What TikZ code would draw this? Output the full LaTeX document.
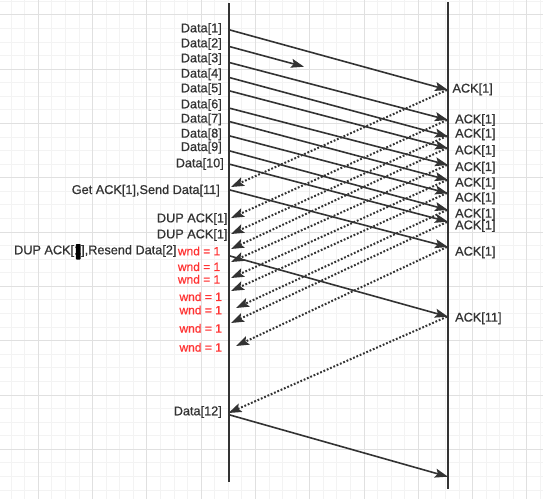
\documentclass[tikz,border=0pt]{standalone}
\usepackage{fontspec}
\setmainfont{Liberation Sans}
\newfontfamily\lblfont{Liberation Sans}[FakeBold=0.7]
\usetikzlibrary{arrows.meta}
\definecolor{ink}{HTML}{333333}
\definecolor{wndred}{HTML}{FF3333}
\definecolor{gridminor}{HTML}{F3F3F3}
\definecolor{gridmajor}{HTML}{E0E0E0}
\begin{document}
\begin{tikzpicture}[x=1pt,y=-1pt,
  tip/.style={-{Stealth[length=13pt,width=9pt,inset=2.5pt]}},
  dataarrow/.style={tip, draw=ink, fill=ink, line width=1.6pt},
  ackarrow/.style={tip, draw=ink, line width=2pt, dash pattern=on 1.8pt off 1.8pt},
  axisline/.style={draw=ink, line width=2.2pt},
  lbl/.style={inner sep=0pt, text=ink, font=\lblfont\fontsize{12.7}{14}\selectfont},
  wndlbl/.style={inner sep=0pt, text=wndred, font=\lblfont\fontsize{12}{14}\selectfont, anchor=west}
]
\useasboundingbox (0,0) rectangle (543,499);
\fill[white] (0,0) rectangle (543,499);
% grid
\begin{scope}
\clip (0,0) rectangle (543,499);
\foreach \i in {0,...,39} \draw[gridminor, line width=1pt] ({11.14+13.575*\i},0) -- ++(0,499);
\foreach \j in {0,...,36} \draw[gridminor, line width=1pt] (0,{1.33+13.575*\j}) -- ++(543,0);
\foreach \i in {0,...,9} \draw[gridmajor, line width=1pt] ({38.29+54.3*\i},0) -- ++(0,499);
\foreach \j in {0,...,8} \draw[gridmajor, line width=1pt] (0,{14.9+54.3*\j}) -- ++(543,0);
\end{scope}
% axes
\coordinate (ltop) at (229,3);
\coordinate (lbot) at (229,482);
\coordinate (rtop) at (448,2);
\coordinate (rbot) at (448,489);
% dotted ACK arrows (right to left)
\foreach \n/\a/\tx/\b in {1/90/231/187, 2/120/231/218, 3/136/231/234, 4/148/231/249,
  5/165/231/262, 6/180/231/278, 7/193/231/291, 8/210/236/308, 9/222/231/323,
  10/247/236/346, 11/316.7/228.5/413}
{
  \coordinate (a\n s) at (447,\a);
  \coordinate (a\n e) at (\tx,\b);
  \draw[ackarrow] (a\n s) -- (a\n e);
}
% data arrows (left to right)
\foreach \n/\a/\b in {1/30/90, 3/62.7/120, 4/77.7/136.5, 5/91/148.3, 6/108.3/165,
  7/121.7/180, 8/136/193.3, 9/151/210, 10/164.3/221.7, 11/190/247, r2/256/316.7, 12/415/476.7}
{
  \coordinate (d\n s) at (230,\a);
  \coordinate (d\n e) at (448,\b);
  \draw[dataarrow] (d\n s) -- (d\n e);
}
\coordinate (d2s) at (230,46.7);
\coordinate (d2e) at (304,66.7);
\draw[dataarrow] (d2s) -- (d2e);
\draw[axisline] (ltop) -- (lbot);
\draw[axisline] (rtop) -- (rbot);
% left labels
\node[lbl, anchor=east] (t1) at (222,29) {Data[1]};
\node[lbl, anchor=east] (t2) at (222,44) {Data[2]};
\node[lbl, anchor=east] (t3) at (222,59) {Data[3]};
\node[lbl, anchor=east] (t4) at (222,74.3) {Data[4]};
\node[lbl, anchor=east] (t5) at (222,89) {Data[5]};
\node[lbl, anchor=east] (t6) at (222,105) {Data[6]};
\node[lbl, anchor=east] (t7) at (222,119.3) {Data[7]};
\node[lbl, anchor=east] (t8) at (222,134.3) {Data[8]};
\node[lbl, anchor=east] (t9) at (222,147.7) {Data[9]};
\node[lbl, anchor=east] (t10) at (224,164) {Data[10]};
\node[lbl, anchor=east] (tget) at (220,190.7) {Get ACK[1],Send Data[11]};
\node[lbl, anchor=east] (tdup1) at (227.7,219) {DUP ACK[1]};
\node[lbl, anchor=east] (tdup2) at (227.7,235) {DUP ACK[1]};
\node[lbl, anchor=east] (tdup3) at (176.7,251) {DUP ACK[1],Resend Data[2]};
\fill[black, rounded corners=0.8pt] (75.8,244) rectangle (80.6,259.5);
\node[lbl, anchor=east] (t12) at (222,412) {Data[12]};
% red labels
\node[wndlbl] (w1) at (177.7,251) {wnd = 1};
\node[wndlbl] (w2) at (177.7,266.7) {wnd = 1};
\node[wndlbl] (w3) at (177.7,279.3) {wnd = 1};
\node[wndlbl] (w4) at (179.3,296.7) {wnd = 1};
\node[wndlbl] (w5) at (179.3,310) {wnd = 1};
\node[wndlbl] (w6) at (179.3,328.3) {wnd = 1};
\node[wndlbl] (w7) at (179.3,347.3) {wnd = 1};
% right labels
\node[lbl, anchor=west] (r1) at (452.3,89.3) {ACK[1]};
\node[lbl, anchor=west] (r2) at (455,120) {ACK[1]};
\node[lbl, anchor=west] (r3) at (455,134.3) {ACK[1]};
\node[lbl, anchor=west] (r4) at (455,151) {ACK[1]};
\node[lbl, anchor=west] (r5) at (455,167.7) {ACK[1]};
\node[lbl, anchor=west] (r6) at (455,183.3) {ACK[1]};
\node[lbl, anchor=west] (r7) at (455,198.3) {ACK[1]};
\node[lbl, anchor=west] (r8) at (455,214.3) {ACK[1]};
\node[lbl, anchor=west] (r9) at (455,226) {ACK[1]};
\node[lbl, anchor=west] (r10) at (455,252.3) {ACK[1]};
\node[lbl, anchor=west] (r11) at (455,318.3) {ACK[11]};
\end{tikzpicture}
\end{document}
